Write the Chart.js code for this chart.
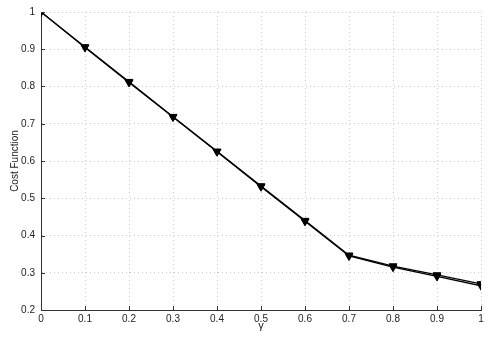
<!DOCTYPE html>
<html>
<head>
<meta charset="utf-8">
<script src="https://cdn.jsdelivr.net/npm/chart.js@4"></script>
<style>
html,body{margin:0;padding:0;background:#fff;}
#wrap{width:494px;height:348px;position:relative;}
</style>
</head>
<body>
<div id="wrap"><canvas id="c" width="494" height="348"></canvas></div>
<script>
const gammaValues = [0, 0.1, 0.2, 0.3, 0.4, 0.5, 0.6, 0.7, 0.8, 0.9, 1];
const costSeriesA = [1.0, 0.906, 0.813, 0.719, 0.626, 0.533, 0.440, 0.347, 0.318, 0.294, 0.270];
const costSeriesB = [1.0, 0.905, 0.811, 0.718, 0.625, 0.531, 0.438, 0.345, 0.315, 0.290, 0.265];
const xTickLabels = ['0', '0.1', '0.2', '0.3', '0.4', '0.5', '0.6', '0.7', '0.8', '0.9', '1'];
const yTickLabels = ['0.2', '0.3', '0.4', '0.5', '0.6', '0.7', '0.8', '0.9', '1'];
const xTitle = 'γ';
const yTitle = 'Cost Function';

const FONT = {family: 'Liberation Sans, Arial, Helvetica, sans-serif', size: 10};

const inwardTicks = {
  id: 'inwardTicks',
  afterDraw(chart) {
    const {ctx, chartArea, scales} = chart;
    ctx.save();
    ctx.strokeStyle = '#333';
    ctx.lineWidth = 1;
    ctx.beginPath();
    scales.x.ticks.forEach(t => {
      const px = Math.round(scales.x.getPixelForValue(t.value)) + 0.5;
      ctx.moveTo(px, chartArea.bottom);
      ctx.lineTo(px, chartArea.bottom - 4);
    });
    scales.y.ticks.forEach(t => {
      const py = Math.round(scales.y.getPixelForValue(t.value)) + 0.5;
      ctx.moveTo(chartArea.left, py);
      ctx.lineTo(chartArea.left + 4, py);
    });
    ctx.stroke();
    ctx.restore();
  }
};

const toPts = (arr) => gammaValues.map((g, i) => ({x: g, y: arr[i]}));

new Chart(document.getElementById('c'), {
  type: 'line',
  data: {
    datasets: [
      {
        data: toPts(costSeriesB),
        borderColor: '#000',
        backgroundColor: '#000',
        borderWidth: 1.3,
        pointStyle: 'triangle',
        rotation: 180,
        pointRadius: 4.5,
        pointBorderWidth: 1,
        tension: 0
      },
      {
        data: toPts(costSeriesA),
        borderColor: '#000',
        backgroundColor: '#000',
        borderWidth: 1.3,
        pointStyle: 'triangle',
        rotation: 180,
        pointRadius: 4.5,
        pointBorderWidth: 1,
        tension: 0
      }
    ]
  },
  options: {
    responsive: false,
    animation: false,
    devicePixelRatio: 1,
    layout: {padding: {top: 9, right: 13, left: 0, bottom: 0}},
    plugins: {legend: {display: false}, tooltip: {enabled: false}},
    scales: {
      x: {
        type: 'linear',
        min: 0, max: 1,
        afterBuildTicks(scale) { scale.ticks = gammaValues.map(v => ({value: v})); },
        afterFit(scale) { scale.height = 38; },
        ticks: {
          font: FONT, color: '#222', padding: 3, maxRotation: 0, autoSkip: false,
          callback: (v, i) => xTickLabels[i]
        },
        grid: {color: '#cccccc', lineWidth: 1, drawTicks: false},
        border: {display: true, color: '#333', width: 1, dash: [1, 3]},
        title: {display: true, text: xTitle, font: {family: FONT.family, size: 11}, color: '#222', padding: {top: 0, bottom: 15}}
      },
      y: {
        type: 'linear',
        min: 0.2, max: 1,
        afterBuildTicks(scale) { scale.ticks = yTickLabels.map(v => ({value: parseFloat(v)})); },
        afterFit(scale) { scale.width = 41; },
        ticks: {
          font: FONT, color: '#222', padding: 6, autoSkip: false,
          callback: (v, i) => yTickLabels[i]
        },
        grid: {color: '#cccccc', lineWidth: 1, drawTicks: false},
        border: {display: true, color: '#333', width: 1, dash: [1, 3]},
        title: {display: true, text: yTitle, font: FONT, color: '#222', padding: {top: 9, bottom: 0}}
      }
    }
  },
  plugins: [inwardTicks]
});
</script>
</body>
</html>
